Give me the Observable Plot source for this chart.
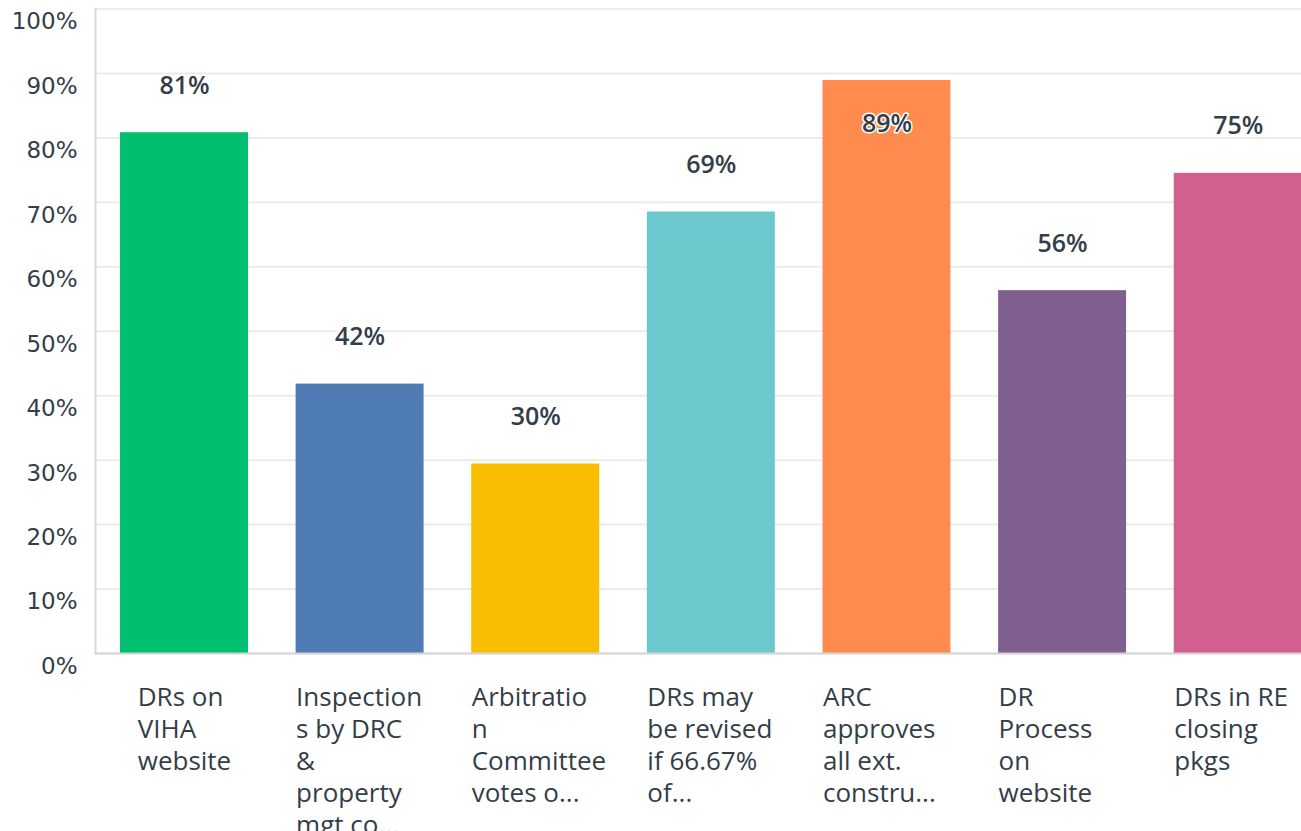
<!DOCTYPE html>
<html><head><meta charset="utf-8">
<script src="https://cdn.jsdelivr.net/npm/d3@7"></script>
<script src="https://cdn.jsdelivr.net/npm/@observablehq/plot@0.6"></script>
<style>
html,body{margin:0;padding:0;background:#fff;overflow:hidden;}
#chart svg{display:block;}
</style></head><body><div id="chart"></div>
<script>
const categories = ["DRs on VIHA website","Inspections by DRC & property mgt co","Arbitration Committee votes","DRs may be revised","ARC approves all ext. construction","DR Process on website","DRs in RE closing pkgs"];
const values = [80.8, 41.8, 29.4, 68.5, 88.9, 56.3, 74.5];
const valueLabels = ["81%","42%","30%","69%","89%","56%","75%"];
const tickLabels = [
  "DRs on\nVIHA\nwebsite",
  "Inspection\ns by DRC\n&\nproperty\nmgt co...",
  "Arbitratio\nn\nCommittee\nvotes o...",
  "DRs may\nbe revised\nif 66.67%\nof...",
  "ARC\napproves\nall ext.\nconstru...",
  "DR\nProcess\non\nwebsite",
  "DRs in RE\nclosing\npkgs"
];
const colors = ["#00bf6f","#507cb6","#f9be00","#6bc8cd","#ff8b4f","#7f5f90","#d25f90"];
const yTicks = [0,10,20,30,40,50,60,70,80,90,100];

const data = categories.map((c,i)=>({category:c, value:values[i], label:valueLabels[i]}));
const textColor = "#333e48";
const xFont = 26;

// measure widest line of the first label to centre its block under the bar
const ctx = document.createElement("canvas").getContext("2d");
ctx.font = `${xFont}px "Open Sans"`;
const widest = s => Math.max(...s.split("\n").map(l => ctx.measureText(l).width));

const step = 1229.7 / 7;
const bandW = 128;
const xAxisOpts = {tickSize: 0, tickPadding: 30, tickFormat: d => tickLabels[categories.indexOf(d)], textAnchor: "start", lineAnchor: "top", fontSize: xFont, lineHeight: 32/xFont, fill: textColor, label: null};

const chart = Plot.plot({
  width: 1301, height: 831,
  marginTop: 8, marginBottom: 178, marginLeft: 95, marginRight: 0,
  style: {fontFamily: "Open Sans", background: "#fff", overflow: "hidden"},
  x: {domain: categories, range: [96, 96 + 7 * step], paddingInner: (step - bandW) / step, paddingOuter: 24 / step, round: false},
  y: {domain: [0, 100], range: [653, 8.5]},
  color: {domain: categories, range: colors},
  marks: [
    Plot.gridY(yTicks, {stroke: "#ebebeb", strokeOpacity: 1, strokeWidth: 2}),
    Plot.frame({anchor: "left", stroke: "#dadada", strokeWidth: 2}),
    Plot.barY(data, {x: "category", y: "value", fill: "category"}),
    Plot.ruleY([0], {stroke: "#d6d6d6", strokeWidth: 2}),
    Plot.axisY(yTicks, {tickSize: 0, tickPadding: 18, tickFormat: d => d + "%", fontSize: 23, fontFamily: "DejaVu Sans", fill: textColor, dy: 13, label: null}),
    Plot.axisX([categories[0]], {...xAxisOpts, dx: -widest(tickLabels[0]) / 2}),
    Plot.axisX(categories.slice(1), {...xAxisOpts, dx: -bandW / 2}),
    Plot.text(data.filter(d => d.value < 85), {x: "category", y: "value", text: "label", dy: -47, fontSize: 25, fontWeight: 600, fill: textColor, stroke: "white", strokeWidth: 3}),
    Plot.text(data.filter(d => d.value >= 85), {x: "category", y: "value", text: "label", dy: 43, fontSize: 25, fontWeight: 600, fill: textColor, stroke: "white", strokeWidth: 3})
  ]
});
document.getElementById("chart").appendChild(chart);
</script></body></html>
